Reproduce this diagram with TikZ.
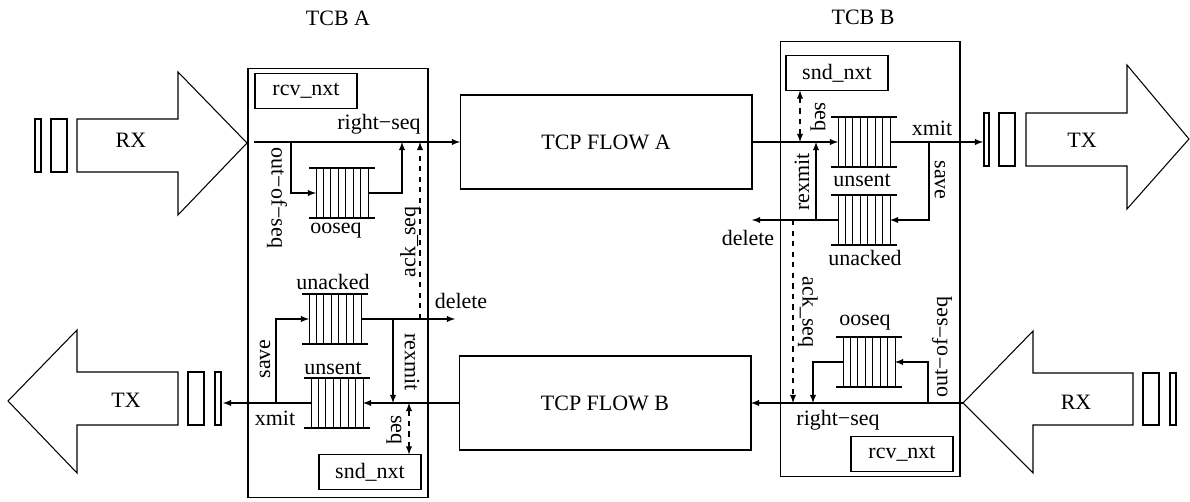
\documentclass[tikz,border=0pt]{standalone}
\usepackage{fontspec}
\setmainfont{Liberation Serif}
\usetikzlibrary{calc}

% the lines of a fifo queue drawn round a named node
\newcommand{\fifolines}[1]{%
  \draw ([xshift=-0.14cm]#1.north west) -- ([xshift=0.14cm]#1.north east)
        ([xshift=-0.14cm]#1.south west) -- ([xshift=0.14cm]#1.south east);
  \foreach \i in {0,...,7}
    \draw[line width=0.45pt] ($(#1.north west)!\i/7!(#1.north east)$) -- ($(#1.south west)!\i/7!(#1.south east)$);
}

\begin{document}
\begin{tikzpicture}
  [x=0.02cm,y=-0.02cm,>=latex,line width=0.6pt,
   font=\fontsize{12.5}{15}\selectfont,
   fifo/.style={rectangle,inner sep=0,outer sep=0,minimum width=1.04cm,minimum height=1cm},
   reg/.style={rectangle,draw,inner sep=0,outer sep=0,minimum width=2.04cm,minimum height=0.7cm},
   flow/.style={rectangle,draw,inner sep=0,outer sep=0,minimum width=5.84cm,minimum height=1.88cm},
   tcb/.style={rectangle,draw,inner sep=0,outer sep=0,minimum width=3.6cm},
   lbl/.style={inner sep=0}]
  \useasboundingbox (0,0) rectangle (1190,502);
  % control blocks
  \node[tcb,minimum height=8.6cm] (tcbA) at (338,283) {};
  \node[tcb,minimum height=8.72cm] (tcbB) at (870,259) {};
  \node[lbl] (tcbAtext) at (338,18) {TCB A};
  \node[lbl] (tcbBtext) at (863,17) {TCB B};
  \node[flow] (flowA) at (606,142) {TCP FLOW A};
  \node[flow] (flowB) at (605,403) {TCP FLOW B};
  \node[reg] (rcvA) at (306,91) {rcv\_nxt};
  \node[reg] (sndA) at (370,472) {snd\_nxt};
  \node[reg] (sndB) at (837,73) {snd\_nxt};
  \node[reg] (rcvB) at (902,454) {rcv\_nxt};
  % queues
  \node[fifo] (ooseqA) at (342,193) {};
  \node[fifo] (unackedA) at (335,319) {};
  \node[fifo] (unsentA) at (337,403) {};
  \node[fifo] (unsentB) at (864,142) {};
  \node[fifo] (unackedB) at (864,220) {};
  \node[fifo] (ooseqB) at (869,362) {};
  \foreach \q in {ooseqA,unackedA,unsentA,unsentB,unackedB,ooseqB} {\fifolines{\q}}
  \node[lbl] (ooseqAtext) at (336,231) {ooseq};
  \node[lbl] (unackedAtext) at (333,282) {unacked};
  \node[lbl] (unsentAtext) at (333,368) {unsent};
  \node[lbl] (unsentBtext) at (862,180) {unsent};
  \node[lbl] (unackedBtext) at (865,258) {unacked};
  \node[lbl] (ooseqBtext) at (865,323) {ooseq};
  % big arrows and packets
  \draw (77,119) -- (178,119) -- (178,72) -- (247,143) -- (178,215) -- (178,172) -- (77,172) -- cycle;
  \draw (35,119) rectangle (41,172) (51,119) rectangle (67,172);
  \node[lbl] (rxA) at (131,140) {RX};
  \draw (178,372) -- (77,372) -- (77,330) -- (8,401) -- (77,473) -- (77,425) -- (178,425) -- cycle;
  \draw (188,372) rectangle (204,425) (215,372) rectangle (221,425);
  \node[lbl] (txA) at (126,400) {TX};
  \draw (1026,113) -- (1127,113) -- (1127,65) -- (1189,139) -- (1127,209) -- (1127,166) -- (1026,166) -- cycle;
  \draw (984,113) rectangle (989,166) (999,113) rectangle (1015,166);
  \node[lbl] (txB) at (1082,140) {TX};
  \draw (1133,373) -- (1033,373) -- (1033,331) -- (963,403) -- (1033,473) -- (1033,425) -- (1133,425) -- cycle;
  \draw (1143,373) rectangle (1159,425) (1170,373) rectangle (1176,425);
  \node[lbl] (rxB) at (1076,402) {RX};
  % TCB A
  \coordinate (inA) at (254,142);
  \coordinate (ooforkA) at (291,142);
  \coordinate (rsA) at (402,142);
  \coordinate (ackA) at (420,319);
  \coordinate (delA) at (455,319);
  \coordinate (rxforkA) at (393,319);
  \coordinate (saveforkA) at (276,403);
  \coordinate (outA) at (223,403);
  \coordinate (seqA) at (409,403);
  \draw[->] (inA) -- (flowA.west);
  \draw[->] (ooforkA) |- (ooseqA.west);
  \draw[->] (ooseqA.east) -| (rsA);
  \draw[->,dashed] (ackA) -- (ackA |- inA);
  \draw[->] (unackedA.east) -- (delA);
  \draw[->] (rxforkA) -- (rxforkA |- unsentA.east);
  \draw[->] (flowB.west) -- (unsentA.east);
  \draw[->] (unsentA.west) -- (outA);
  \draw[->] (saveforkA) |- (unackedA.west);
  \draw[<->,dashed] (seqA) -- (seqA |- sndA.north);
  \node[lbl] (rightseqA) at (379,124) {right−seq};
  \node[lbl,rotate=-90] (oosA) at (277,198) {out−of−seq};
  \node[lbl,rotate=90] (ackseqA) at (410,242) {ack\_seq};
  \node[lbl] (deleteA) at (461,301) {delete};
  \node[lbl,rotate=-90] (rexmitA) at (412,362) {rexmit};
  \node[lbl,rotate=90] (saveA) at (265,359) {save};
  \node[lbl] (xmitA) at (275,418) {xmit};
  \node[lbl,rotate=-90] (sndseqA) at (394,430) {seq};
  % TCB B
  \coordinate (outB) at (983,142);
  \coordinate (saveforkB) at (929,142);
  \coordinate (delB) at (752,220);
  \coordinate (rxforkB) at (816,220);
  \coordinate (ackB) at (793,220);
  \coordinate (inB) at (963,403);
  \coordinate (ooforkB) at (928,403);
  \coordinate (rsB) at (813,403);
  \coordinate (seqB) at (800,142);
  \draw[->] (flowA.east) -- (unsentB.west);
  \draw[->] (unsentB.east) -- (outB);
  \draw[->] (saveforkB) |- (unackedB.east);
  \draw[->] (unackedB.west) -- (delB);
  \draw[->] (rxforkB) -- (rxforkB |- unsentB.west);
  \draw[->,dashed] (ackB) -- (ackB |- inB);
  \draw[->] (inB) -- (flowB.east);
  \draw[->] (ooforkB) |- (ooseqB.east);
  \draw[->] (ooseqB.west) -| (rsB);
  \draw[<->,dashed] (seqB) -- (seqB |- sndB.south);
  \node[lbl,rotate=-90] (sndseqB) at (818,117) {seq};
  \node[lbl] (xmitB) at (932,128) {xmit};
  \node[lbl,rotate=-90] (saveB) at (940,180) {save};
  \node[lbl,rotate=90] (rexmitB) at (802,182) {rexmit};
  \node[lbl] (deleteB) at (748,238) {delete};
  \node[lbl,rotate=-90] (ackseqB) at (808,312) {ack\_seq};
  \node[lbl,rotate=90] (oosB) at (942,347) {out−of−seq};
  \node[lbl] (rightseqB) at (838,420) {right−seq};
\end{tikzpicture}
\end{document}
